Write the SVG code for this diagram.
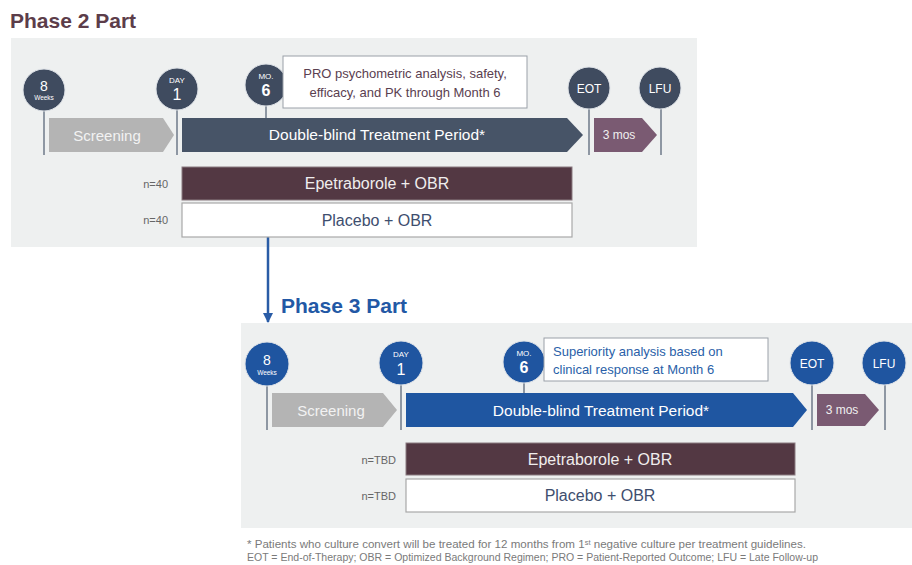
<svg xmlns="http://www.w3.org/2000/svg" width="912" height="565" viewBox="0 0 912 565">
<defs>
<style>
text{font-family:"Liberation Sans",Arial,sans-serif}
.panel{fill:#eef0f0}
.title{font-weight:bold;font-size:21px}
.c2{fill:#3f4b5f;stroke:#dfe3e8;stroke-width:1}
.c3{fill:#1f55a0;stroke:#dfe3e8;stroke-width:1}
.stem{stroke:#8e97a3;stroke-width:2}
.ct{fill:#fff;text-anchor:middle}
.scr{fill:#b4b4b4}
.scrt{fill:#f2f2f2;font-size:15px;text-anchor:middle}
.dbt{fill:#fff;font-size:15.5px;text-anchor:middle}
.mos{fill:#7a5a72}
.most{fill:#f0f0f0;font-size:12px;text-anchor:middle}
.note{fill:#fff;stroke:#9aa0a8;stroke-width:1}
.epe{fill:#533843;stroke:#8a7a80;stroke-width:1}
.epet{fill:#f0eeee;font-size:16px;text-anchor:middle}
.pla{fill:#fff;stroke:#a8a8a8;stroke-width:1.2}
.plat{fill:#3e4e6e;font-size:16px;text-anchor:middle}
.n{fill:#666;font-size:11px;text-anchor:end}
.fn{fill:#7a7a7a;font-size:10px}
</style>
<marker id="ah" viewBox="0 0 10 10" refX="9" refY="5" markerWidth="4" markerHeight="4" orient="auto"><path d="M0,0 L10,5 L0,10 z" fill="#2a5ca6"/></marker>
</defs>
<rect width="912" height="565" fill="#fff"/>

<text class="title" x="10" y="28" fill="#5c3d4a">Phase 2 Part</text>
<rect class="panel" x="11" y="38" width="686" height="209"/>

<text class="title" x="281" y="313" fill="#2258a5">Phase 3 Part</text>
<rect class="panel" x="241" y="323" width="671" height="205"/>

<g id="connectors">
<line x1="268" y1="237" x2="268" y2="322" stroke="#2a5ca6" stroke-width="2.5" marker-end="url(#ah)"/>
</g>

<!-- Phase 2 -->
<g id="p2-8weeks">
<line class="stem" x1="44" y1="110" x2="44" y2="155"/>
<circle class="c2" cx="44" cy="90" r="21"/>
<text class="ct" x="44" y="91" font-size="14">8</text>
<text class="ct" x="44" y="100" font-size="6.5">Weeks</text>
</g>
<g id="p2-day1">
<line class="stem" x1="177" y1="109" x2="177" y2="155"/>
<circle class="c2" cx="177" cy="89" r="21"/>
<text class="ct" x="177" y="83" font-size="8">DAY</text>
<text class="ct" x="177" y="100" font-size="16">1</text>
</g>
<g id="p2-mo6">
<line class="stem" x1="266" y1="105" x2="266" y2="118"/>
<circle class="c2" cx="266" cy="85" r="21"/>
<text class="ct" x="266" y="79" font-size="8">MO.</text>
<text class="ct" x="266" y="96" font-size="16" font-weight="bold">6</text>
</g>
<g id="p2-note">
<rect class="note" x="283" y="56" width="244" height="52"/>
<text x="405" y="78" font-size="13" fill="#5a4050" text-anchor="middle">PRO psychometric analysis, safety,</text>
<text x="405" y="97" font-size="13" fill="#5a4050" text-anchor="middle">efficacy, and PK through Month 6</text>
</g>
<g id="p2-eot">
<line class="stem" x1="589" y1="108" x2="589" y2="155"/>
<circle class="c2" cx="589" cy="88" r="21"/>
<text class="ct" x="589" y="93" font-size="12">EOT</text>
</g>
<g id="p2-lfu">
<line class="stem" x1="661" y1="108" x2="661" y2="155"/>
<circle class="c2" cx="660" cy="88" r="21"/>
<text class="ct" x="660" y="93" font-size="12">LFU</text>
</g>
<g id="p2-screening">
<polygon class="scr" points="49,118 163,118 174,135 163,152 49,152"/>
<text class="scrt" x="107" y="141">Screening</text>
</g>
<g id="p2-treatment">
<polygon fill="#475467" points="182,118 567,118 583,135 567,152 182,152"/>
<text class="dbt" x="377" y="140">Double-blind Treatment Period*</text>
</g>
<g id="p2-3mos">
<polygon class="mos" points="594,118 642,118 657,135 642,152 594,152"/>
<text class="most" x="619" y="139">3 mos</text>
</g>
<g id="p2-epe">
<text class="n" x="168" y="188">n=40</text>
<rect class="epe" x="182" y="167" width="390" height="33"/>
<text class="epet" x="377" y="189">Epetraborole + OBR</text>
</g>
<g id="p2-pla">
<text class="n" x="168" y="224">n=40</text>
<rect class="pla" x="182" y="203" width="390" height="34"/>
<text class="plat" x="377" y="226">Placebo + OBR</text>
</g>

<!-- Phase 3 -->
<g id="p3-8weeks">
<line class="stem" x1="267" y1="385" x2="267" y2="430"/>
<circle class="c3" cx="267" cy="364" r="22"/>
<text class="ct" x="267" y="365" font-size="14">8</text>
<text class="ct" x="267" y="375" font-size="6.5">Weeks</text>
</g>
<g id="p3-day1">
<line class="stem" x1="401" y1="384" x2="401" y2="430"/>
<circle class="c3" cx="401" cy="363" r="22"/>
<text class="ct" x="401" y="357" font-size="8">DAY</text>
<text class="ct" x="401" y="375" font-size="16">1</text>
</g>
<g id="p3-mo6">
<line class="stem" x1="524" y1="383" x2="524" y2="393"/>
<circle class="c3" cx="524" cy="362" r="21"/>
<text class="ct" x="524" y="356" font-size="8">MO.</text>
<text class="ct" x="524" y="373" font-size="16" font-weight="bold">6</text>
</g>
<g id="p3-note">
<rect class="note" x="544" y="338" width="224" height="43"/>
<text x="553" y="356" font-size="13" fill="#2a5fa8">Superiority analysis based on</text>
<text x="553" y="374" font-size="13" fill="#2a5fa8">clinical response at Month 6</text>
</g>
<g id="p3-eot">
<line class="stem" x1="812" y1="384" x2="812" y2="430"/>
<circle class="c3" cx="812" cy="363" r="22"/>
<text class="ct" x="812" y="368" font-size="12">EOT</text>
</g>
<g id="p3-lfu">
<line class="stem" x1="885" y1="384" x2="885" y2="430"/>
<circle class="c3" cx="884" cy="363" r="22"/>
<text class="ct" x="884" y="368" font-size="12">LFU</text>
</g>
<g id="p3-screening">
<polygon class="scr" points="272,393 383,393 397,410 383,427 272,427"/>
<text class="scrt" x="331" y="416">Screening</text>
</g>
<g id="p3-treatment">
<polygon fill="#1f56a1" points="406,393 793,393 807,410 793,427 406,427"/>
<text class="dbt" x="601" y="416">Double-blind Treatment Period*</text>
</g>
<g id="p3-3mos">
<polygon class="mos" points="817,394 865,394 879,410 865,426 817,426"/>
<text class="most" x="842" y="414">3 mos</text>
</g>
<g id="p3-epe">
<text class="n" x="396" y="464" font-size="12">n=TBD</text>
<rect class="epe" x="406" y="443" width="389" height="32"/>
<text class="epet" x="600" y="465">Epetraborole + OBR</text>
</g>
<g id="p3-pla">
<text class="n" x="396" y="500" font-size="12">n=TBD</text>
<rect class="pla" x="406" y="479" width="389" height="33"/>
<text class="plat" x="600" y="501">Placebo + OBR</text>
</g>

<g id="footnote">
<text class="fn" x="247" y="548" textLength="559" lengthAdjust="spacingAndGlyphs">* Patients who culture convert will be treated for 12 months from 1<tspan font-size="6.5" dy="-3">st</tspan><tspan dy="3"> negative culture per treatment guidelines.</tspan></text>
<text class="fn" x="247" y="561" textLength="571" lengthAdjust="spacingAndGlyphs">EOT = End-of-Therapy; OBR = Optimized Background Regimen; PRO = Patient-Reported Outcome; LFU = Late Follow-up</text>
</g>
</svg>
